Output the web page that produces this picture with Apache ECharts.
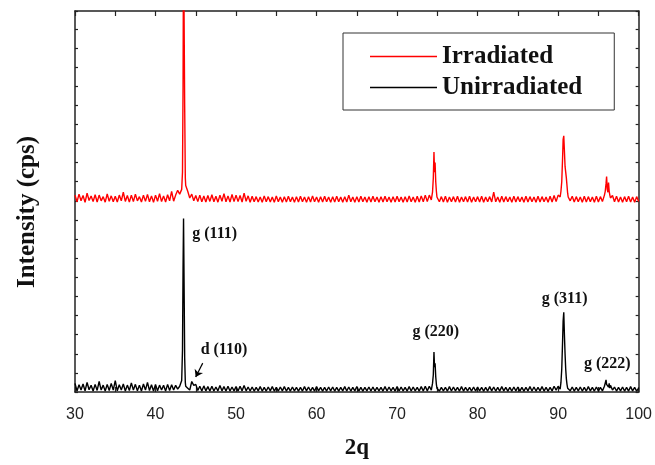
<!DOCTYPE html>
<html>
<head>
<meta charset="utf-8">
<script src="https://cdn.jsdelivr.net/npm/echarts@6/dist/echarts.min.js"></script>
<style>
  html, body { margin: 0; padding: 0; background: #fff; }
  #chart { width: 655px; height: 465px; }
</style>
</head>
<body>
<div id="chart"></div>
<script>
// 2θ sampling positions (one row per degree, denser around the peaks)
const twoTheta = [
  30,30.25,30.5,30.75, 31,31.25,31.5,31.75, 32,32.25,32.5,32.75, 33,33.25,33.5,33.75,
  34,34.25,34.5,34.75, 35,35.25,35.5,35.75, 36,36.25,36.5,36.75, 37,37.25,37.5,37.75,
  38,38.25,38.5,38.75, 39,39.25,39.5,39.75, 40,40.25,40.5,40.75, 41,41.25,41.5,41.75,
  42,42.25,42.5,42.75,
  43,43.25,43.35,43.42,43.48,43.55,43.62,43.7,43.75,
  44,44.25,44.5,44.75, 45,45.25,45.5,45.75, 46,46.25,46.5,46.75, 47,47.25,47.5,47.75,
  48,48.25,48.5,48.75, 49,49.25,49.5,49.75, 50,50.25,50.5,50.75, 51,51.25,51.5,51.75,
  52,52.25,52.5,52.75, 53,53.25,53.5,53.75, 54,54.25,54.5,54.75, 55,55.25,55.5,55.75,
  56,56.25,56.5,56.75, 57,57.25,57.5,57.75, 58,58.25,58.5,58.75, 59,59.25,59.5,59.75,
  60,60.25,60.5,60.75, 61,61.25,61.5,61.75, 62,62.25,62.5,62.75, 63,63.25,63.5,63.75,
  64,64.25,64.5,64.75, 65,65.25,65.5,65.75, 66,66.25,66.5,66.75, 67,67.25,67.5,67.75,
  68,68.25,68.5,68.75, 69,69.25,69.5,69.75, 70,70.25,70.5,70.75, 71,71.25,71.5,71.75,
  72,72.25,72.5,72.75, 73,73.25,73.5,73.75,
  74,74.25,74.4,74.5,74.58,74.65,74.72,74.8,74.88,74.95,
  75,75.25,75.5,75.75, 76,76.25,76.5,76.75, 77,77.25,77.5,77.75, 78,78.25,78.5,78.75,
  79,79.25,79.5,79.75, 80,80.25,80.5,80.75, 81,81.25,81.5,81.75, 82,82.25,82.5,82.75,
  83,83.25,83.5,83.75, 84,84.25,84.5,84.75, 85,85.25,85.5,85.75, 86,86.25,86.5,86.75,
  87,87.25,87.5,87.75, 88,88.25,88.5,88.75, 89,89.25,89.5,89.75,
  90,90.25,90.35,90.45,90.55,90.62,90.7,90.78,90.86,90.94,
  91.02,91.1,91.18,91.25,91.5,91.75,
  92,92.25,92.5,92.75, 93,93.25,93.5,93.75, 94,94.25,94.5,94.75,
  95,95.25,95.5,95.75,95.85,95.95,
  96.02,96.1,96.18,96.26,96.34,96.42,96.5,96.75,
  97,97.25,97.5,97.75, 98,98.25,98.5,98.75, 99,99.25,99.5,99.75,
  100
];

// irradiated sample, shifted up by ~10 units
const irradiated = [
  10.3,9.95,10.35,10.0, 10.28,9.92,10.4,10.02, 10.25,9.96,10.32,9.94, 10.3,10.0,10.22,9.93,
  10.36,9.98,10.26,9.95, 10.24,9.94,10.3,10.0, 10.45,9.97,10.28,9.93, 10.3,9.96,10.35,10.0,
  10.22,9.94,10.3,9.97, 10.34,9.95,10.26,9.92, 10.3,9.98,10.38,9.96, 10.26,9.94,10.32,10.0,
  10.5,9.98,10.3,10.55,
  10.35,10.6,11.5,16,24,24,15,11.2,10.8,
  10.5,10.15,10.35,10.0, 10.28,9.96,10.3,9.95, 10.25,9.94,10.28,9.97, 10.32,9.95,10.24,9.93,
  10.3,9.98,10.38,9.95, 10.26,9.94,10.34,9.96, 10.3,9.96,10.28,9.94, 10.4,9.98,10.26,9.93,
  10.24,9.95,10.22,9.94, 10.2,9.93,10.26,9.95, 10.22,9.94,10.2,9.92, 10.25,9.95,10.2,9.93,
  10.22,9.94,10.24,9.95, 10.2,9.93,10.22,9.94, 10.24,9.95,10.2,9.92, 10.22,9.94,10.26,9.95,
  10.2,9.93,10.22,9.94, 10.24,9.95,10.2,9.93, 10.22,9.94,10.24,9.95, 10.2,9.93,10.22,9.94,
  10.3,9.95,10.2,9.93, 10.22,9.94,10.24,9.95, 10.2,9.93,10.22,9.94, 10.24,9.95,10.2,9.93,
  10.22,9.94,10.24,9.95, 10.2,9.93,10.22,9.94, 10.24,9.95,10.2,9.93, 10.22,9.94,10.26,9.95,
  10.2,9.93,10.24,9.94, 10.26,9.95,10.3,9.96,
  10.3,10.05,10.45,11.2,12.55,11.5,12.0,11.0,10.5,10.2,
  10.28,9.95,10.22,9.94, 10.24,9.93,10.2,9.95, 10.22,9.94,10.24,9.93, 10.2,9.95,10.22,9.94,
  10.24,9.93,10.2,9.95, 10.22,9.94,10.24,9.93, 10.2,9.95,10.22,9.94, 10.45,9.95,10.2,9.93,
  10.24,9.94,10.22,9.95, 10.2,9.93,10.24,9.94, 10.22,9.95,10.2,9.93, 10.24,9.94,10.22,9.95,
  10.2,9.93,10.24,9.94, 10.22,9.95,10.2,9.93, 10.24,9.94,10.28,9.96,
  10.3,10.2,10.5,11.0,12.2,13.2,13.4,12.6,11.8,11.5,
  11.2,10.8,10.4,10.2,10.0,10.24,
  9.94,10.22,9.95,10.2, 9.93,10.24,9.94,10.22, 9.95,10.2,9.93,10.24,
  9.94,10.22,9.96,10.3,10.5,10.9,
  11.27,10.6,10.45,10.95,10.5,10.3,10.15,10.28,
  9.95,10.24,9.94,10.2, 9.93,10.22,9.95,10.24, 9.94,10.2,9.93,10.22,
  9.96
];

const unirradiated = [
  0.45,0.05,0.38,0.1, 0.42,0.06,0.5,0.12, 0.35,0.05,0.4,0.08, 0.55,0.1,0.36,0.05,
  0.4,0.08,0.45,0.1, 0.6,0.06,0.38,0.1, 0.42,0.05,0.36,0.08, 0.48,0.1,0.4,0.06,
  0.36,0.05,0.42,0.1, 0.5,0.08,0.38,0.05, 0.4,0.06,0.36,0.1, 0.35,0.05,0.4,0.08,
  0.38,0.1,0.35,0.15,
  0.3,0.6,2.2,6.5,9.08,5.5,1.8,0.5,0.3,
  0.2,0.1,0.55,0.35, 0.4,0.08,0.3,0.05, 0.32,0.06,0.28,0.05, 0.3,0.05,0.26,0.06,
  0.34,0.06,0.28,0.05, 0.3,0.05,0.26,0.06, 0.28,0.05,0.3,0.06, 0.34,0.06,0.26,0.05,
  0.26,0.05,0.24,0.06, 0.28,0.05,0.24,0.05, 0.26,0.06,0.28,0.05, 0.24,0.05,0.26,0.06,
  0.28,0.05,0.24,0.05, 0.26,0.06,0.24,0.05, 0.24,0.05,0.28,0.06, 0.26,0.05,0.24,0.05,
  0.28,0.06,0.24,0.05, 0.24,0.05,0.26,0.06, 0.26,0.05,0.24,0.05, 0.24,0.06,0.28,0.05,
  0.26,0.05,0.24,0.06, 0.28,0.05,0.24,0.05, 0.24,0.06,0.26,0.05, 0.26,0.05,0.24,0.06,
  0.24,0.05,0.28,0.05, 0.26,0.06,0.24,0.05, 0.28,0.05,0.26,0.06, 0.24,0.05,0.28,0.05,
  0.26,0.06,0.24,0.05, 0.28,0.05,0.3,0.06,
  0.3,0.1,0.45,0.9,2.09,1.3,1.5,0.8,0.4,0.2,
  0.26,0.05,0.24,0.06, 0.24,0.05,0.28,0.05, 0.26,0.06,0.24,0.05, 0.28,0.05,0.24,0.06,
  0.24,0.05,0.26,0.05, 0.26,0.06,0.24,0.05, 0.24,0.05,0.28,0.06, 0.26,0.05,0.24,0.05,
  0.28,0.06,0.24,0.05, 0.24,0.05,0.26,0.06, 0.26,0.05,0.24,0.05, 0.24,0.06,0.28,0.05,
  0.26,0.05,0.24,0.06, 0.28,0.05,0.24,0.05, 0.24,0.06,0.3,0.1,
  0.3,0.15,0.5,1.2,2.6,3.7,4.17,3.0,2.0,1.2,
  0.7,0.4,0.2,0.15,0.06,0.26,
  0.05,0.24,0.06,0.26, 0.05,0.24,0.05,0.28, 0.06,0.24,0.05,0.26,
  0.05,0.24,0.06,0.3,0.35,0.63,
  0.4,0.3,0.5,0.25,0.45,0.2,0.35,0.1,
  0.26,0.05,0.24,0.06, 0.26,0.05,0.24,0.05, 0.28,0.06,0.24,0.05,
  0.2
];

// peak annotations: text and where it sits in data units
const peakNames = ['g (111)', 'd (110)', 'g (220)', 'g (311)', 'g (222)'];
const peakAngles = [47.35, 48.5, 74.8, 90.8, 96.1];
const peakHeights = [8.29, 2.19, 3.13, 4.88, 1.46];

const serif = '"Liberation Serif", "Times New Roman", serif';
const axisColor = '#222';

const chart = echarts.init(document.getElementById('chart'));

function xAxisOf(pos, showLabel) {
  return {
    type: 'value',
    position: pos,
    min: 30,
    max: 100,
    interval: 10,
    axisLine: { show: true, onZero: false, lineStyle: { color: axisColor, width: 1.5 } },
    axisTick: { show: true, inside: true, length: 5, lineStyle: { color: axisColor, width: 1.2 } },
    minorTick: { show: true, splitNumber: 2, length: 5, lineStyle: { color: axisColor, width: 1.2 } },
    axisLabel: {
      show: showLabel,
      margin: 15,
      color: '#222',
      fontSize: 16,
      fontFamily: '"Liberation Sans", Arial, sans-serif'
    },
    splitLine: { show: false }
  };
}

function yAxisOf(pos) {
  return {
    type: 'value',
    position: pos,
    min: 0,
    max: 19.93,
    interval: 1,
    axisLine: { show: true, onZero: false, lineStyle: { color: axisColor, width: 1.5 } },
    axisTick: { show: true, inside: true, length: 3, lineStyle: { color: axisColor, width: 1.2 } },
    axisLabel: { show: false },
    splitLine: { show: false }
  };
}

const option = {
  backgroundColor: '#fff',
  animation: false,
  grid: { left: 75, right: 14, top: 11, bottom: 72 },
  xAxis: [
    Object.assign(xAxisOf('bottom', true), {
      name: '2q',
      nameLocation: 'middle',
      nameGap: 45,
      nameTextStyle: { fontFamily: serif, fontWeight: 'bold', fontSize: 23, color: '#111' }
    }),
    xAxisOf('top', false)
  ],
  yAxis: [yAxisOf('left'), yAxisOf('right')],
  legend: {
    left: 343,
    top: 33,
    orient: 'vertical',
    icon: 'rect',
    itemWidth: 67,
    itemHeight: 1.5,
    itemGap: 6,
    padding: [11, 32, 10, 27],
    borderColor: '#333',
    borderWidth: 1,
    textStyle: { fontFamily: serif, fontWeight: 'bold', fontSize: 25, lineHeight: 25, color: '#111' },
    data: ['Irradiated', 'Unirradiated']
  },
  graphic: [{
    type: 'text',
    x: 28,
    y: 212,
    rotation: Math.PI / 2,
    style: {
      text: 'Intensity (cps)',
      font: 'bold 25px ' + serif,
      fill: '#111',
      align: 'center',
      verticalAlign: 'middle'
    }
  }],
  series: [
    {
      name: 'Irradiated',
      type: 'line',
      data: twoTheta.map((t, i) => [t, irradiated[i]]),
      symbol: 'none',
      lineStyle: { color: '#ff0000', width: 1.4 },
      itemStyle: { color: '#ff0000' }
    },
    {
      name: 'Unirradiated',
      type: 'line',
      data: twoTheta.map((t, i) => [t, unirradiated[i]]),
      symbol: 'none',
      lineStyle: { color: '#000', width: 1.4 },
      itemStyle: { color: '#000' },
      markPoint: {
        symbol: 'circle',
        symbolSize: 0,
        label: {
          show: true,
          position: 'inside',
          formatter: p => p.name,
          fontFamily: serif,
          fontWeight: 'bold',
          fontSize: 16,
          color: '#111'
        },
        data: peakNames.map((n, i) => ({ name: n, coord: [peakAngles[i], peakHeights[i]] }))
      },
      markLine: {
        silent: true,
        symbol: ['none', 'arrow'],
        symbolSize: 7,
        label: { show: false },
        lineStyle: { color: '#000', width: 1.2, type: 'solid' },
        data: [[{ coord: [45.86, 1.51] }, { coord: [44.99, 0.78] }]]
      }
    }
  ]
};

chart.setOption(option);
</script>
</body>
</html>
